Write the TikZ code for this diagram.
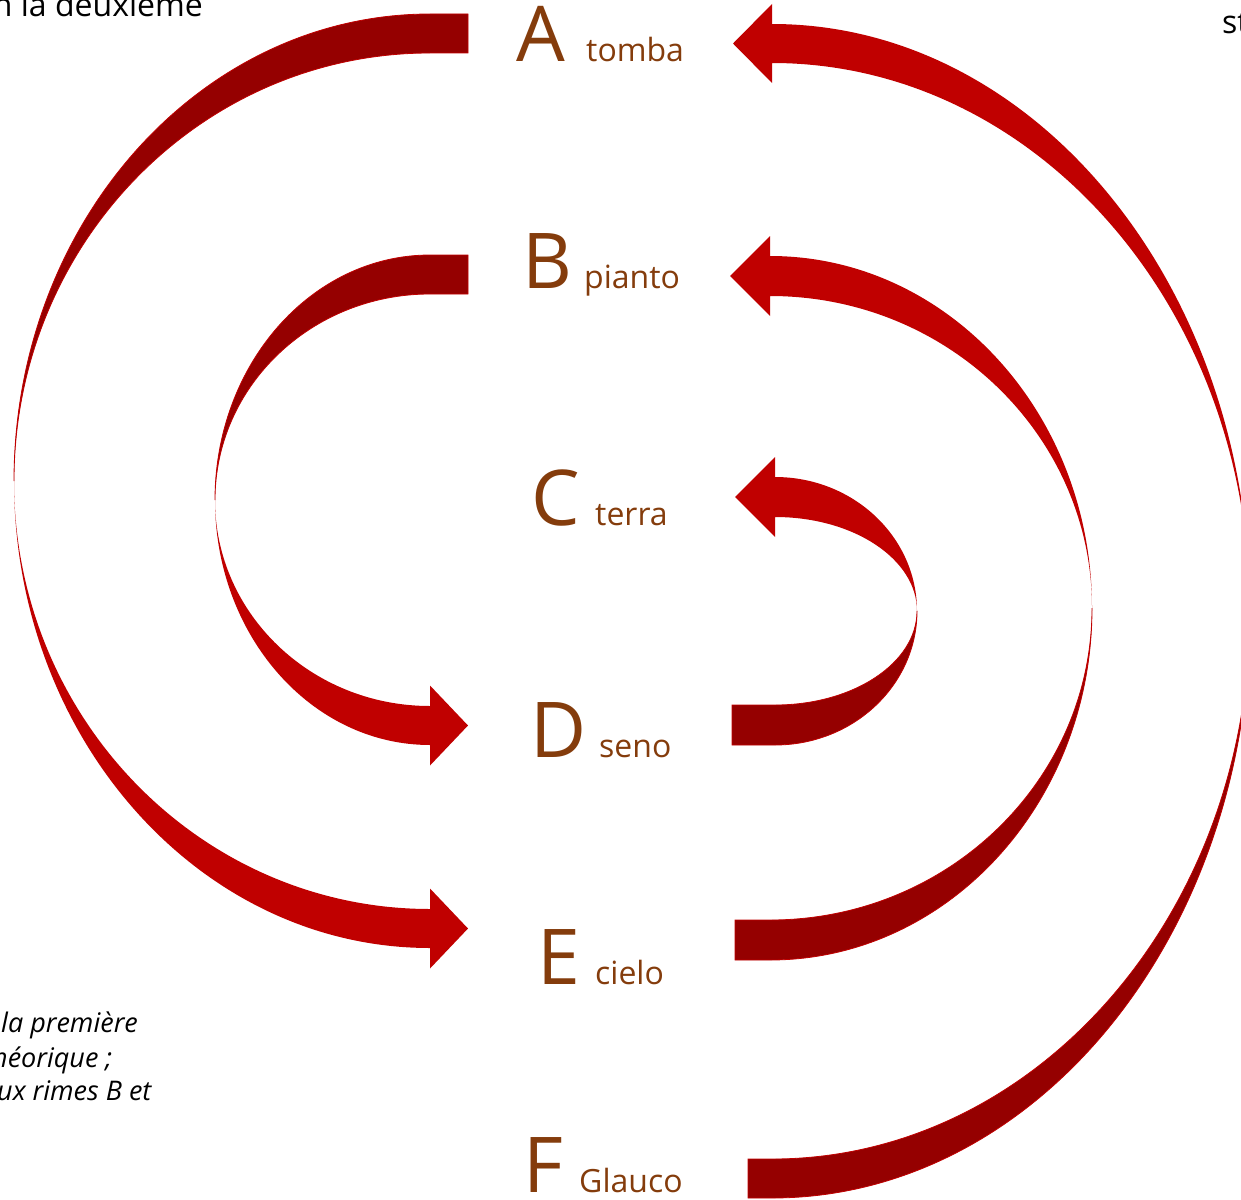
\documentclass[tikz,border=0pt]{standalone}
\usepackage{fontspec}
\setmainfont{Open Sans}
\usepackage{tikz}
\definecolor{ribbonred}{HTML}{C00000}
\definecolor{ribbondark}{HTML}{950000}
\definecolor{rimebrown}{HTML}{843C0C}

\begin{document}
\begin{tikzpicture}
    [x=1pt, y=1pt,
      rime/.style={anchor=base west, inner sep=0pt, text=rimebrown,
        font=\fontsize{77}{80}\selectfont},
      mot/.style={anchor=base west, inner sep=0pt, text=rimebrown,
        font=\fontsize{32}{36}\selectfont},
      note/.style={anchor=base west, inner sep=0pt,
        font=\fontsize{32}{36}\selectfont},
      glose/.style={anchor=base west, inner sep=0pt,
        font=\fontsize{27}{30}\selectfont\itshape},
      front/.style={fill=ribbonred},
      back/.style={fill=ribbondark, draw=ribbonred, line width=0.8pt}]
    \useasboundingbox (0,0) rectangle (1241,-1199);

    \node[rime] (A) at (516,-62) {A};
    \node[rime] (B) at (522,-288) {B};
    \node[rime] (C) at (531,-525) {C};
    \node[rime] (D) at (530,-757) {D};
    \node[rime] (E) at (537,-984) {E};
    \node[rime] (F) at (523,-1192) {F};
    \node[mot] (tomba) at (586,-62) {tomba};
    \node[mot] (pianto) at (584,-288) {pianto};
    \node[mot] (terra) at (595,-525) {terra};
    \node[mot] (seno) at (599,-757) {seno};
    \node[mot] (cielo) at (595,-984) {cielo};
    \node[mot] (Glauco) at (579,-1192) {Glauco};

    \node[note, anchor=base east] (deux) at (203,-17) {n la deuxième};
    \node[note] (st) at (1222,-34) {st};
    \node[glose] (l1) at (1,-1032) {la première};
    \node[glose] (l2) at (-8,-1067) {héorique ;};
    \node[glose] (l3) at (-3,-1100) {ux rimes B et};

    \coordinate (tAE) at (468,-33.5);
    \coordinate (hAE) at (468,-928.5);
    \coordinate (tBD) at (468,-274.5);
    \coordinate (hBD) at (468,-725.5);
    \coordinate (tDC) at (732,-725);
    \coordinate (hDC) at (735,-497);
    \coordinate (tEB) at (735,-940);
    \coordinate (hEB) at (730,-276);
    \coordinate (tFA) at (748,-1178.5);
    \coordinate (hFA) at (733,-43.5);

    \fill[back] (tAE) ++(0,19.5) -- ++(-38,0)
      arc[start angle=90, end angle=180, x radius=416, y radius=467]
      arc[start angle=180, end angle=90, x radius=416, y radius=428] -- ++(38,0) -- cycle;
    \fill[front] (hAE) -- ++(-38,40) -- ++(0,-20.5)
      arc[start angle=270, end angle=180, x radius=416, y radius=428]
      arc[start angle=180, end angle=270, x radius=416, y radius=467] -- ++(0,-20.5) -- cycle;

    \fill[back] (tBD) ++(0,19.5) -- ++(-38,0)
      arc[start angle=90, end angle=180, x radius=215, y radius=245]
      arc[start angle=180, end angle=90, x radius=215, y radius=206] -- ++(38,0) -- cycle;
    \fill[front] (hBD) -- ++(-38,40) -- ++(0,-20.5)
      arc[start angle=270, end angle=180, x radius=215, y radius=206]
      arc[start angle=180, end angle=270, x radius=215, y radius=245] -- ++(0,-20.5) -- cycle;

    \fill[back] (tDC) ++(0,-20) -- ++(43,0)
      arc[start angle=-90, end angle=0, x radius=142, y radius=134]
      arc[start angle=0, end angle=-90, x radius=142, y radius=94] -- ++(-43,0) -- cycle;
    \fill[front] (hDC) -- ++(40,40) -- ++(0,-20)
      arc[start angle=90, end angle=0, x radius=142, y radius=134]
      arc[start angle=0, end angle=90, x radius=142, y radius=94] -- ++(0,-20) -- cycle;

    \fill[back] (tEB) ++(0,-20) -- ++(35,0)
      arc[start angle=-90, end angle=0, x radius=322, y radius=352]
      arc[start angle=0, end angle=-90, x radius=322, y radius=312] -- ++(-35,0) -- cycle;
    \fill[front] (hEB) -- ++(40,40) -- ++(0,-20)
      arc[start angle=90, end angle=0, x radius=322, y radius=352]
      arc[start angle=0, end angle=90, x radius=322, y radius=312] -- ++(0,-20) -- cycle;

    \fill[back] (tFA) ++(0,-19.5) -- ++(24,0)
      arc[start angle=-90, end angle=0, x radius=478, y radius=587]
      arc[start angle=0, end angle=-90, x radius=478, y radius=548] -- ++(-24,0) -- cycle;
    \fill[front] (hFA) -- ++(39,39.5) -- ++(0,-20)
      arc[start angle=90, end angle=0, x radius=478, y radius=587]
      arc[start angle=0, end angle=90, x radius=478, y radius=548] -- ++(0,-20) -- cycle;
  \end{tikzpicture}
\end{document}
